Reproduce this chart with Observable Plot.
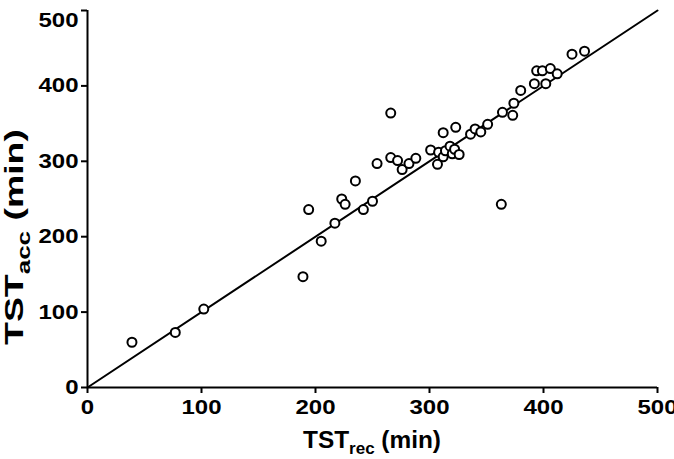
<!DOCTYPE html>
<html><head><meta charset="utf-8">
<script src="https://cdn.jsdelivr.net/npm/d3@7"></script>
<script src="https://cdn.jsdelivr.net/npm/@observablehq/plot@0.6"></script>
<style>body{margin:0;background:#fff}</style>
</head><body><div id="chart"></div>
<script>
const tstRec = [39, 77, 102, 189, 194, 205, 217, 223, 226, 235, 242, 250, 254, 266, 266, 272, 276, 282, 288, 301, 307, 308, 312, 312, 314, 318, 320, 322, 323, 326, 336, 340, 345, 351, 363, 364, 373, 374, 380, 392, 394, 399, 402, 406, 412, 425, 436];
const tstAcc = [60, 73, 104, 147, 236, 194, 218, 250, 243, 274, 236, 247, 297, 364, 305, 301, 289, 297, 304, 315, 296, 312, 306, 338, 314, 320, 310, 316, 345, 309, 336, 343, 339, 349, 243, 365, 361, 377, 394, 403, 420, 420, 403, 423, 416, 442, 446];
const tickValues = [0, 100, 200, 300, 400, 500];
const identityLine = [0, 500];

const points = tstRec.map((x, i) => ({x, y: tstAcc[i]}));
const diag = identityLine.map(v => ({x: v, y: v}));

const chart = Plot.plot({
  width: 674, height: 459,
  marginLeft: 87, marginRight: 17, marginTop: 10, marginBottom: 72,
  style: {fontFamily: "'Liberation Sans', Arial, sans-serif", fontWeight: "bold", fontSize: "20px", color: "#000", background: "#fff"},
  x: {domain: [0, 500]},
  y: {domain: [0, 500]},
  marks: [
    Plot.axisX({ticks: tickValues, tickSize: 6, tickPadding: 6, strokeWidth: 2, label: null}),
    Plot.axisY({ticks: tickValues, tickSize: 6, tickPadding: 3, strokeWidth: 2, label: null}),
    Plot.ruleY([0], {strokeWidth: 2}),
    Plot.ruleX([0], {strokeWidth: 2}),
    Plot.line(diag, {x: "x", y: "y", strokeWidth: 2, stroke: "black"}),
    Plot.dot(points, {x: "x", y: "y", r: 4.5, stroke: "black", strokeWidth: 2, fill: "white"})
  ]
});
document.getElementById("chart").appendChild(chart);

const svg = d3.select(chart);
// widen tick labels horizontally, as in the reference
svg.selectAll("g[aria-label='x-axis tick label'] text, g[aria-label='y-axis tick label'] text").each(function() {
  const len = this.getComputedTextLength();
  d3.select(this).attr("textLength", len * 1.2).attr("lengthAdjust", "spacingAndGlyphs");
});
// keep the top y tick label inside the picture
const yLabels = svg.selectAll("g[aria-label='y-axis tick label'] text").nodes();
yLabels.forEach(n => { if (n.textContent.trim() === "500") n.setAttribute("dy", "0.5em"); });

function title(g, main, sub, rest, size, subSize, shift, total) {
  const t = g.append("text").attr("text-anchor", "middle").attr("font-size", size).attr("font-weight", "bold").attr("fill", "#000");
  t.append("tspan").text(main);
  t.append("tspan").attr("font-size", subSize).attr("dy", shift).text(sub);
  t.append("tspan").attr("dy", -shift).text(rest);
  t.attr("textLength", total).attr("lengthAdjust", "spacingAndGlyphs");
  return t;
}
const xt = svg.append("g").attr("transform", "translate(372,448)");
title(xt, "TST", "rec", " (min)", 23, 16, 6, 138);
const yt = svg.append("g").attr("transform", "translate(23,237) rotate(-90)");
title(yt, "TST", "acc", " (min)", 26, 18, 7, 216);
</script>
</body></html>
